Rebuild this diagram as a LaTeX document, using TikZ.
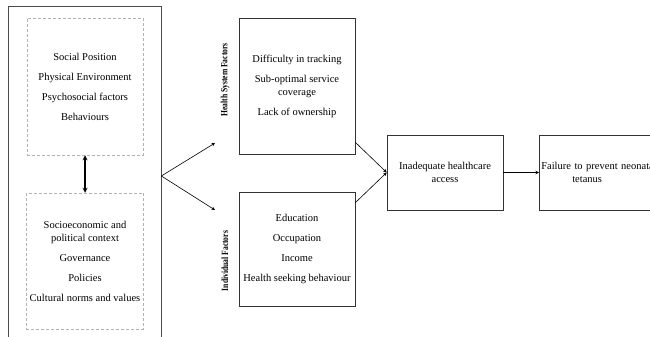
\documentclass[tikz,border=0pt]{standalone}
\usepackage{fontspec}
\setmainfont{Liberation Serif}
\usetikzlibrary{arrows, positioning, calc}
\tikzstyle{outerbox} = [rectangle, draw=black!70, line width=0.7pt, minimum width=153pt, minimum height=340pt]
\tikzstyle{groupbox} = [rectangle, draw=black!30, densely dashed, line width=0.5pt, minimum width=116pt, text centered, align=center]
\tikzstyle{process} = [rectangle, draw=black!80, line width=0.6pt, minimum width=116pt, text centered, align=center]
\tikzstyle{sidelabel} = [rotate=90, font=\fontsize{9.5}{10}\selectfont\bfseries]
\tikzstyle{arrow} = [->,>=stealth, line width=0.6pt]
\tikzstyle{dblarrow} = [<->,>=stealth, line width=1.2pt]
\newcommand{\narrow}[1]{\scalebox{0.8}[1]{#1}}

\begin{document}
\begin{tikzpicture}[x=1pt, y=-1pt, font=\fontsize{10.5}{13}\selectfont]
\useasboundingbox (0,0) rectangle (650,337);
\node (outer) [outerbox] at (84.5,176) {};
\node (social) [groupbox, minimum height=137pt] at (85,86.5) {Social Position\\[7pt] Physical Environment\\[7pt] Psychosocial factors\\[7pt] Behaviours};
\node (context) [groupbox, minimum height=136pt] at (85,261) {Socioeconomic and\\ political context\\[7pt] Governance\\[7pt] Policies\\[7pt] Cultural norms and values};
\node (hs) [process, minimum height=136pt] at (297,86) {Difficulty in tracking\\[7pt] Sub-optimal service\\ coverage\\[7pt] Lack of ownership};
\node (ind) [process, minimum height=114pt] at (297,249) {Education\\[7pt] Occupation\\[7pt] Income\\[7pt] Health seeking behaviour};
\node (hslabel) [sidelabel] at (225,80) {\narrow{Health System Factors}};
\node (indlabel) [sidelabel] at (225,261) {\narrow{Individual Factors}};
\node (inad) [process, minimum height=75pt] at (445,172.5) {Inadequate healthcare\\ access};
\node (fail) [process, anchor=west, text width=126pt, inner xsep=2pt, minimum height=75pt, align=left] at (539,172.5) {Failure to prevent neonatal\\ \hspace*{31pt}tetanus};
\coordinate (hsin) at (215,143);
\coordinate (indin) at (215,210);

\draw [dblarrow] (social) -- (context);
\draw [arrow] (outer.east) -- (hsin);
\draw [arrow] (outer.east) -- (indin);
\draw [arrow] ([yshift=12pt]hs.south east) -- (inad.west);
\draw [arrow] ([yshift=-11pt]ind.north east) -- (inad.west);
\draw [arrow] (inad) -- (fail);
\end{tikzpicture}
\end{document}
